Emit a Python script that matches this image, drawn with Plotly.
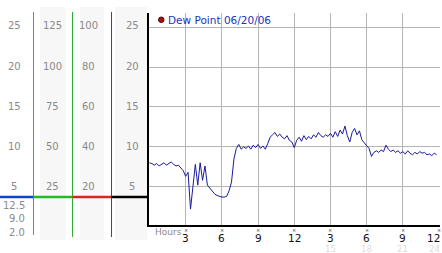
import plotly.graph_objects as go

W, H = 442, 253

# ---- data ----
dew_point = [
    8.0, 7.9, 7.7, 7.9, 7.6, 7.8, 8.0, 7.7, 7.9, 8.1, 7.8, 7.6, 7.7, 7.4,
    7.0, 6.3, 6.8, 2.2, 5.5, 7.8, 5.2, 8.0, 5.8, 7.6, 5.2, 4.8, 4.4, 4.1,
    3.9, 3.8, 3.7, 3.7, 3.8, 4.5, 5.6, 8.5, 9.8, 10.3, 9.7, 10.0, 9.8, 10.1,
    9.7, 10.2, 9.9, 10.3, 9.8, 10.1, 9.7, 10.4, 11.2, 11.5, 11.8, 11.3, 11.6,
    11.2, 11.0, 11.4, 10.8, 10.6, 9.9, 10.8, 11.2, 10.7, 11.4, 10.9, 11.3,
    11.0, 11.5, 11.2, 11.8, 11.4, 11.2, 11.5, 11.3, 11.7, 11.2, 11.9, 11.3,
    12.1, 11.6, 12.6, 11.4, 10.6, 11.8, 12.3, 11.5, 12.0, 10.9, 10.5, 10.1,
    9.8, 8.8, 9.3, 9.5, 9.3, 9.6, 9.4, 10.2, 9.7, 9.4, 9.6, 9.3, 9.5, 9.2,
    9.4, 9.1, 9.5, 9.2, 9.0, 9.3, 9.1, 9.4, 9.2, 9.3, 9.0, 9.1, 8.9, 9.2, 9.0,
]
hours = [round(i * 0.2, 1) for i in range(len(dew_point))]

x_ticks = [3, 6, 9, 12, 15, 18, 21, 24]
x_tick_labels = ["3", "6", "9", "12", "3", "6", "9", "12"]
x_sub_labels = ["", "", "", "", "15", "18", "21", "24"]
y_ticks = [5, 10, 15, 20, 25]

col1_labels = ["25", "20", "15", "10", "5"]
col2_labels = ["125", "100", "75", "50", "25"]
col3_labels = ["100", "80", "60", "40", "20"]
col4_labels = ["25", "20", "15", "10", "5"]
bottom_labels = ["12.5", "9.0", "2.0"]
legend_text = "Dew Point 06/20/06"


def px(x):
    return x / W


def py(y):
    return 1 - y / H


fig = go.Figure()
fig.add_trace(go.Scatter(x=hours, y=dew_point, mode="lines",
                         line=dict(color="#1a1a9e", width=1), hoverinfo="skip"))

shapes = []
# grey column backgrounds
for x0, x1 in [(40, 66), (80, 104), (115, 147)]:
    shapes.append(dict(type="rect", xref="paper", yref="paper", x0=px(x0), x1=px(x1),
                       y0=py(240), y1=py(7), fillcolor="#f7f7f7", line=dict(width=0), layer="below"))
# vertical colored lines
for x, c, yb in [(33.5, "#3399cc", 235), (72.5, "#33aa33", 237), (111.5, "#aa2222", 237)]:
    shapes.append(dict(type="line", xref="paper", yref="paper", x0=px(x), x1=px(x),
                       y0=py(yb), y1=py(12), line=dict(color=c, width=1)))
# horizontal colored segments
for x0, x1, c in [(0, 33.5, "#1144cc"), (33.5, 72.5, "#22bb22"), (72.5, 111.5, "#dd2222"), (111.5, 149, "#000000")]:
    shapes.append(dict(type="line", xref="paper", yref="paper", x0=px(x0), x1=px(x1),
                       y0=py(197), y1=py(197), line=dict(color=c, width=2.5)))
# legend dot
shapes.append(dict(type="circle", xref="paper", yref="paper", x0=px(158.5), x1=px(164),
                   y0=py(22.5), y1=py(17), fillcolor="#aa1111", line=dict(color="#550000", width=1)))
fig.update_layout(shapes=shapes)

ann = []
label_font = dict(family="DejaVu Sans", size=10, color="#8a8a8a")
ys = [26, 66, 106, 146, 186]
for labels, xc in [(col1_labels, 14), (col2_labels, 52), (col3_labels, 88.5), (col4_labels, 132)]:
    for t, yy in zip(labels, ys):
        ann.append(dict(x=px(xc), y=py(yy), xref="paper", yref="paper", text=t, showarrow=False,
                        xanchor="center", yanchor="middle", font=label_font))
for t, yy in zip(bottom_labels, [205, 218.5, 232]):
    ann.append(dict(x=px(27), y=py(yy), xref="paper", yref="paper", text=t, showarrow=False,
                    xanchor="right", yanchor="middle", font=label_font))
# y-axis tiny markers
for v in y_ticks:
    ann.append(dict(x=-0.15, y=v, xref="x", yref="y", text="×", showarrow=False,
                    xanchor="right", yanchor="middle", font=dict(family="DejaVu Sans", size=6, color="#222")))
# x tick labels
for xv, t, s in zip(x_ticks, x_tick_labels, x_sub_labels):
    last = xv == x_ticks[-1]
    ann.append(dict(x=xv, y=py(229.5), xref="x", yref="paper", text="×", showarrow=False,
                    xanchor="center", yanchor="middle", font=dict(family="DejaVu Sans", size=5, color="#222")))
    ann.append(dict(x=px(442) if last else xv, y=py(238), xref="paper" if last else "x", yref="paper",
                    text=t, showarrow=False, xanchor="right" if last else "center", yanchor="middle",
                    font=dict(family="DejaVu Sans", size=10.5, color="#111")))
    if s:
        ann.append(dict(x=px(442) if last else xv, y=py(248.5), xref="paper" if last else "x", yref="paper",
                        text=s, showarrow=False, xanchor="right" if last else "center", yanchor="middle",
                        font=dict(family="DejaVu Sans", size=8.5, color="#dcdcdc")))
ann.append(dict(x=px(153), y=py(232), xref="paper", yref="paper", text="Hours", showarrow=False,
                xanchor="left", yanchor="middle", font=dict(family="DejaVu Sans", size=9, color="#8a8a8a")))
ann.append(dict(x=px(165.5), y=py(20), xref="paper", yref="paper", text=legend_text, showarrow=False,
                xanchor="left", yanchor="middle", font=dict(family="DejaVu Sans", size=10.5, color="#2233bb")))
fig.update_layout(annotations=ann)

fig.update_layout(
    width=W, height=H, margin=dict(l=0, r=0, t=0, b=0),
    paper_bgcolor="white", plot_bgcolor="white", showlegend=False,
    xaxis=dict(domain=[px(149), px(440)], range=[-0.04, 24.08], tickvals=x_ticks,
               showticklabels=False, showgrid=True, gridcolor="#b4b4b4", gridwidth=1,
               zeroline=False, showline=True, linecolor="#000", linewidth=2, ticks=""),
    yaxis=dict(domain=[py(225), py(13)], range=[0.2, 26.77], tickvals=y_ticks,
               showticklabels=False, showgrid=True, gridcolor="#b4b4b4", gridwidth=1,
               zeroline=False, showline=True, linecolor="#000", linewidth=2, ticks=""),
)

fig.write_html("out.html")
